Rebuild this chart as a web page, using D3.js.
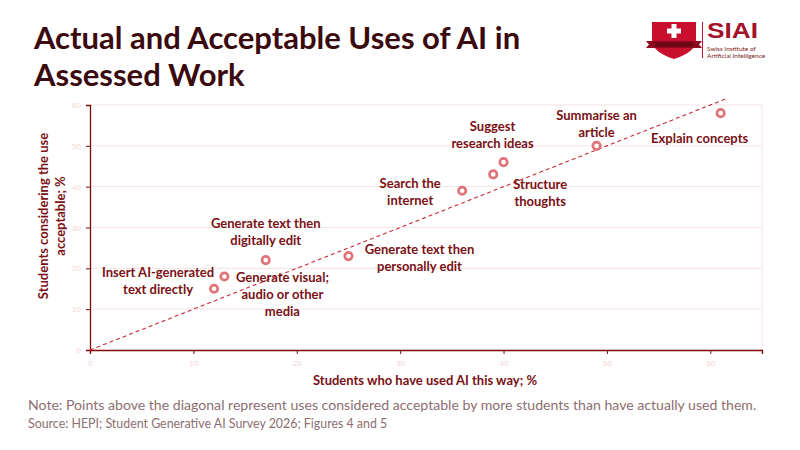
<!DOCTYPE html>
<html lang="en">
<head>
<meta charset="UTF-8">
<title>Actual and Acceptable Uses of AI in Assessed Work</title>
<script src="https://cdn.jsdelivr.net/npm/d3@7/dist/d3.min.js"></script>
<style>
    body { margin: 0; background: #fff; }
    svg { display: block; font-family: Lato, "Open Sans", sans-serif; }
    .tick text { fill: #f4d4d4; font-size: 8px; }
    .lbl { fill: #7a1014; font-size: 13px; font-weight: bold; }
</style>
</head>
<body>
<script>
    // uses of AI, % who used it this way vs % who think it acceptable
    var uses = ["Insert AI-generated\ntext directly", "Generate visual;\naudio or other\nmedia",
        "Generate text then\ndigitally edit", "Generate text then\npersonally edit",
        "Search the\ninternet", "Structure\nthoughts", "Suggest\nresearch ideas",
        "Summarise an\narticle", "Explain concepts"];
    var usedPct = [12, 13, 17, 25, 36, 39, 40, 49, 61];
    var acceptPct = [15, 18, 22, 23, 39, 43, 46, 50, 58];
    var xTicks = [0, 10, 20, 30, 40, 50, 60];
    var yTicks = [0, 10, 20, 30, 40, 50, 60];
    var diagonal = [0, 61.5];

    // label offsets from each point (px), placed by hand like the original
    var labelDx = [-56, 58, 0, 71, -52, 47, -11, 0, -21];
    var labelDy = [-16, 1, -37, -7, -7, 10, -36, -30, 25];

    var W = 800, H = 450;
    var m = { left: 90, right: 38, top: 105, bottom: 100 };

    var svg = d3.select("body").append("svg")
        .attr("width", W).attr("height", H);

    var x = d3.scaleLinear().domain([0, 65]).range([m.left, W - m.right]);
    var y = d3.scaleLinear().domain([0, 60]).range([H - m.bottom, m.top]);

    // title
    svg.append("text").attr("x", 34).attr("y", 49)
        .attr("font-size", 31).attr("font-weight", "bold").attr("fill", "#3a0a0e")
        .text("Actual and Acceptable Uses of AI in");
    svg.append("text").attr("x", 34).attr("y", 86)
        .attr("font-size", 31).attr("font-weight", "bold").attr("fill", "#3a0a0e")
        .text("Assessed Work");

    // logo
    var logo = svg.append("g");
    logo.append("path")
        .attr("d", "M652,22 H696 V40 Q696,52 674,59 Q652,52 652,40 Z")
        .attr("fill", "#c8102e");
    logo.append("path")
        .attr("d", "M646,41 H702 L699,44.5 L702,48 H646 L649,44.5 Z")
        .attr("fill", "#8e0b1e");
    logo.append("rect").attr("x", 655).attr("y", 42.5).attr("width", 38).attr("height", 4).attr("fill", "#6a0814");
    logo.append("rect").attr("x", 671.5).attr("y", 24).attr("width", 5).attr("height", 14).attr("fill", "#fff");
    logo.append("rect").attr("x", 667).attr("y", 28.5).attr("width", 14).attr("height", 5).attr("fill", "#fff");
    logo.append("line").attr("x1", 702.5).attr("x2", 702.5).attr("y1", 22).attr("y2", 58)
        .attr("stroke", "#c8102e").attr("stroke-width", 1);
    logo.append("text").attr("x", 707).attr("y", 38)
        .attr("font-size", 22).attr("font-weight", "bold").attr("fill", "#a3122a")
        .attr("font-family", "'Liberation Sans', Arial, sans-serif")
        .attr("textLength", 51).attr("lengthAdjust", "spacingAndGlyphs")
        .text("SIAI");
    logo.append("text").attr("x", 707).attr("y", 51)
        .attr("font-size", 6.5).attr("fill", "#7a1a20").text("Swiss Institute of");
    logo.append("text").attr("x", 707).attr("y", 58)
        .attr("font-size", 6.5).attr("fill", "#7a1a20").text("Artificial Intelligence");

    // gridlines + panel edge
    svg.append("g").selectAll("line").data(yTicks.slice(1)).enter().append("line")
        .attr("x1", m.left).attr("x2", W - m.right)
        .attr("y1", d => y(d)).attr("y2", d => y(d))
        .attr("stroke", "#f8e2e2").attr("stroke-width", 1);
    svg.append("line").attr("x1", W - m.right).attr("x2", W - m.right)
        .attr("y1", m.top).attr("y2", H - m.bottom)
        .attr("stroke", "#f8e8e8");

    // axes
    var xAxis = svg.append("g").attr("transform", "translate(0," + (H - m.bottom) + ")")
        .call(d3.axisBottom(x).tickValues(xTicks).tickSize(4).tickPadding(6));
    var yAxis = svg.append("g").attr("transform", "translate(" + m.left + ",0)")
        .call(d3.axisLeft(y).tickValues(yTicks).tickSize(4).tickPadding(5));
    [xAxis, yAxis].forEach(function(a){
        a.select(".domain").attr("stroke", "#7a0a0a").attr("stroke-width", 1.3);
        a.selectAll(".tick line").attr("stroke", "#7a0a0a");
    });

    // diagonal y = x
    svg.append("line")
        .attr("x1", x(diagonal[0])).attr("y1", y(diagonal[0]))
        .attr("x2", x(diagonal[1])).attr("y2", y(diagonal[1]))
        .attr("stroke", "#c8283a").attr("stroke-width", 1.1)
        .attr("stroke-dasharray", "4,3");

    // points
    svg.append("g").selectAll("circle").data(usedPct).enter().append("circle")
        .attr("cx", d => x(d))
        .attr("cy", (d, i) => y(acceptPct[i]))
        .attr("r", 3.7)
        .attr("fill", "#fff")
        .attr("stroke", "#e07378")
        .attr("stroke-width", 2.7);

    // labels
    var labels = svg.append("g").selectAll("text").data(uses).enter().append("text")
        .attr("class", "lbl")
        .attr("text-anchor", "middle")
        .attr("transform", (d, i) => "translate(" + (x(usedPct[i]) + labelDx[i]) + "," + (y(acceptPct[i]) + labelDy[i]) + ")");
    labels.each(function(d){
        var lines = d.split("\n");
        var t = d3.select(this);
        lines.forEach(function(s, k){
            t.append("tspan").attr("x", 0).attr("y", k * 17 + 4.5).text(s);
        });
    });

    // axis titles
    svg.append("text").attr("class", "lbl")
        .attr("x", 425).attr("y", 385)
        .attr("text-anchor", "middle")
        .text("Students who have used AI this way; %");
    var yt = svg.append("text").attr("class", "lbl")
        .attr("text-anchor", "middle")
        .attr("transform", "translate(48,216) rotate(-90)");
    yt.append("tspan").attr("x", 0).attr("y", 0).text("Students considering the use");
    yt.append("tspan").attr("x", 0).attr("y", 17).text("acceptable; %");

    // note + source
    svg.append("text").attr("x", 28).attr("y", 410)
        .attr("font-size", 14.1).attr("fill", "#8c6e70")
        .text("Note: Points above the diagonal represent uses considered acceptable by more students than have actually used them.");
    svg.append("text").attr("x", 28).attr("y", 428)
        .attr("font-size", 12.4).attr("fill", "#8c6e70")
        .text("Source: HEPI; Student Generative AI Survey 2026; Figures 4 and 5");
</script>
</body>
</html>
